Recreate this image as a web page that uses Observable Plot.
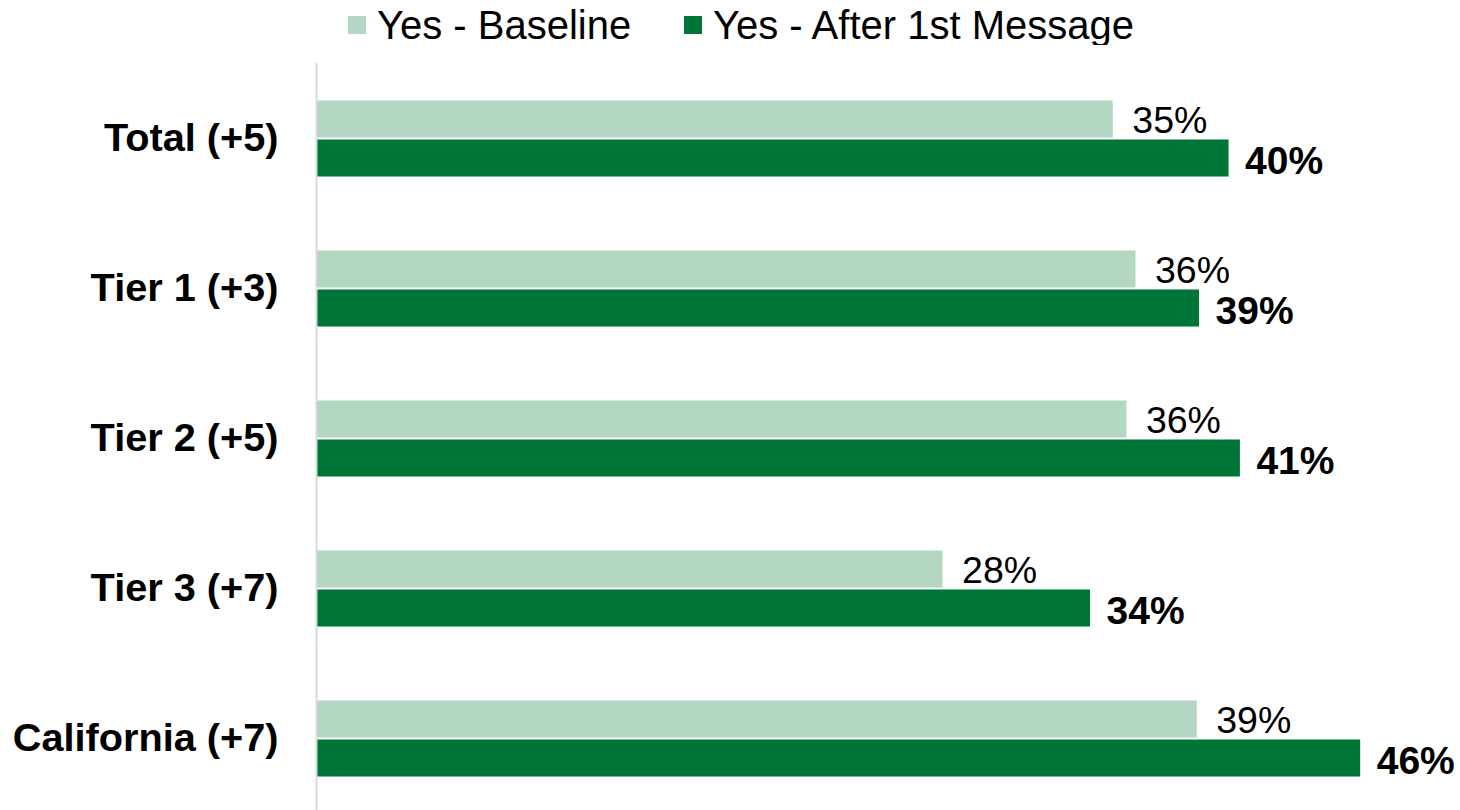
<!DOCTYPE html>
<html>
<head>
<meta charset="utf-8">
<script src="https://cdn.jsdelivr.net/npm/d3@7"></script>
<script src="https://cdn.jsdelivr.net/npm/@observablehq/plot@0.6"></script>
<style>
  html, body { margin: 0; padding: 0; background: #fff; overflow: hidden; }
  body { width: 1460px; height: 810px; position: relative; font-family: "Liberation Sans", Arial, sans-serif; }
  #legend { position: absolute; left: 0; top: 0; width: 1460px; height: 50px; }
  .item { position: absolute; top: 0; height: 50px; display: flex; align-items: center; gap: 11px; font-size: 40px; color: #000; line-height: 1; }
  .sw { width: 18px; height: 18px; display: inline-block; }
  #chart { position: absolute; left: 0; top: 45px; }
  #chart svg { overflow: visible; }
</style>
</head>
<body>
<div id="legend"></div>
<div id="chart"></div>
<script>
const categories = ["Total (+5)", "Tier 1 (+3)", "Tier 2 (+5)", "Tier 3 (+7)", "California (+7)"];
const seriesNames = ["Yes - Baseline", "Yes - After 1st Message"];
const baselineValues = [35.1, 36.1, 35.7, 27.6, 38.8];
const afterValues = [40.2, 38.9, 40.7, 34.1, 46.0];
const seriesColors = ["#b3d7c3", "#007538"];

const data = [];
categories.forEach((c, i) => {
  data.push({category: c, series: seriesNames[0], value: baselineValues[i]});
  data.push({category: c, series: seriesNames[1], value: afterValues[i]});
});

// Legend
const legend = document.getElementById("legend");
const legendLeft = [348, 684];
seriesNames.forEach((s, i) => {
  const it = document.createElement("div");
  it.className = "item";
  it.style.left = legendLeft[i] + "px";
  const sw = document.createElement("span");
  sw.className = "sw";
  sw.style.background = seriesColors[i];
  const t = document.createElement("span");
  t.textContent = s;
  it.appendChild(sw);
  it.appendChild(t);
  legend.appendChild(it);
});

const chart = Plot.plot({
  width: 1460,
  height: 768.5,
  marginTop: 16.5,
  marginBottom: 0,
  marginLeft: 316,
  marginRight: 9,
  style: {fontFamily: "'Liberation Sans', Arial, sans-serif", color: "#000", background: "#fff"},
  x: {domain: [0, 50], axis: null},
  y: {domain: seriesNames, paddingInner: 0.063, paddingOuter: 0.93, axis: null},
  fy: {domain: categories, padding: 0, label: null},
  color: {domain: seriesNames, range: seriesColors},
  marks: [
    Plot.axisFy({anchor: "left", tickSize: 0, tickPadding: 38, fontSize: 39.7, fontWeight: "bold", label: null}),
    Plot.barX(data, {x: "value", y: "series", fy: "category", fill: "series"}),
    Plot.ruleX([0], {stroke: "#d9d9d9", strokeWidth: 2}),
    Plot.text(data.filter(d => d.series === seriesNames[0]), {
      x: "value", y: "series", fy: "category",
      text: d => `${Math.round(d.value)}%`,
      textAnchor: "start", dx: 19, dy: 1, fontSize: 37.5, fill: "#000"
    }),
    Plot.text(data.filter(d => d.series === seriesNames[1]), {
      x: "value", y: "series", fy: "category",
      text: d => `${Math.round(d.value)}%`,
      textAnchor: "start", dx: 16, dy: 3, fontSize: 39, fontWeight: "bold", fill: "#000"
    })
  ]
});
document.getElementById("chart").appendChild(chart);
</script>
</body>
</html>
